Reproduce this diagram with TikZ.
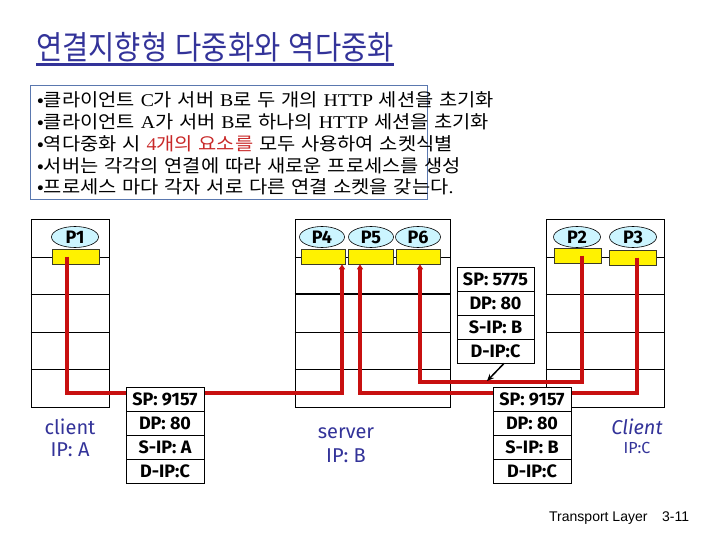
\documentclass[tikz,border=0pt]{standalone}
\usepackage{fontspec}
\usepackage{graphicx}
\setmainfont{Liberation Serif}
\newfontfamily\krfont[WordSpace=1.3]{Noto Sans CJK KR}
\newfontfamily\comic{Fira Sans}
\newfontfamily\arialf{Liberation Sans}
\newcommand\lt[1]{{\rmfamily #1}}
\newcommand\wide[1]{\scalebox{1.1}[1]{#1}}
\usetikzlibrary{shapes.geometric,arrows.meta}
\definecolor{ttl}{RGB}{51,51,153}
\definecolor{boxb}{RGB}{90,120,175}
\definecolor{rline}{RGB}{200,16,16}
\definecolor{pcyan}{RGB}{204,245,255}
\definecolor{redtxt}{RGB}{200,40,40}
\definecolor{sockb}{RGB}{60,60,40}
\begin{document}
\begin{tikzpicture}[x=1pt,y=-1pt,
  hostbox/.style={draw,line width=0.8pt,inner sep=0pt,minimum height=188pt},
  layer/.style={line width=0.8pt},
  proc/.style={ellipse,draw,line width=0.6pt,fill=pcyan,minimum height=21pt,inner sep=0pt,font=\comic\bfseries\fontsize{18}{18}\selectfont},
  sock/.style={draw=sockb,line width=0.6pt,fill=yellow,minimum height=15pt,inner sep=0pt},
  rl/.style={draw=rline,line width=3.4pt},
  rtip/.style={-{Triangle[length=5pt,width=6pt]}},
  pkt/.style={draw,line width=0.8pt,fill=white,minimum width=78pt,minimum height=24pt,inner sep=0pt,font=\comic\bfseries\fontsize{18}{18}\selectfont},
  lbl/.style={text=ttl,inner sep=0pt,font=\comic\fontsize{20}{20}\selectfont},
  bl/.style={anchor=base west,inner sep=0pt,font=\krfont\fontsize{18}{18}\selectfont}
]
\useasboundingbox (0,0) rectangle (720,540);
% title
\node[anchor=base west,inner sep=0pt,text=ttl,font=\krfont\fontsize{31}{31}\selectfont] (title) at (36,60) {\scalebox{0.92}[1.05]{연결지향형 다중화와 역다중화}};
\draw[ttl,line width=3pt] ([yshift=-5pt]title.base west) -- ([yshift=-5pt]title.base east);
% text box
\node[draw=boxb,line width=0.8pt,minimum width=397pt,minimum height=114pt,inner sep=0pt] (tb) at (228.5,142) {};
\node[bl] (t1) at (37,106.6) {\wide{•클라이언트 \lt{C}가 서버 \lt{B}로 두 개의 \lt{HTTP} 세션을 초기화}};
\node[bl] (t2) at (37,129) {\wide{•클라이언트 \lt{A}가 서버 \lt{B}로 하나의 \lt{HTTP} 세션을 초기화}};
\node[bl] (t3) at (37,150.6) {\wide{•역다중화 시 \textcolor{redtxt}{\lt{4}개의 요소를} 모두 사용하여 소켓식별}};
\node[bl] (t4) at (37,172.6) {\wide{•서버는 각각의 연결에 따라 새로운 프로세스를 생성}};
\node[bl] (t5) at (37,193.6) {\wide{•프로세스 마다 각자 서로 다른 연결 소켓을 갖는다\lt{.}}};
% hosts
\node[hostbox,minimum width=78pt] (hA) at (70,313) {};
\node[hostbox,minimum width=155pt] (hB) at (372.5,313) {};
\node[hostbox,minimum width=118pt] (hC) at (605,313) {};
\foreach \h in {hA,hB,hC}{
  \foreach \yy in {257,332,369}{
    \draw[layer] (\h.west |- 0,\yy) -- (\h.east |- 0,\yy);
  }
}
\draw[layer] (hA.west |- 0,294) -- (hA.east |- 0,294);
\draw[line width=1.6pt] (hB.west |- 0,294) -- (hB.east |- 0,294);
\draw[layer] (hC.west |- 0,294) -- (hC.east |- 0,294);
% processes
\node[proc,minimum width=47pt] (p1) at (75,237) {P1};
\node[proc,minimum width=45pt] (p4) at (322,237) {P4};
\node[proc,minimum width=45pt] (p5) at (371,237) {P5};
\node[proc,minimum width=45pt] (p6) at (418,237) {P6};
\node[proc,minimum width=47pt] (p2) at (577,237) {P2};
\node[proc,minimum width=47pt] (p3) at (633,237) {P3};
% sockets
\node[sock,minimum width=47pt] (s1) at (75.5,256.5) {};
\node[sock,minimum width=44pt] (s4) at (323,256.5) {};
\node[sock,minimum width=45pt] (s5) at (370.5,256.5) {};
\node[sock,minimum width=44pt] (s6) at (418,256.5) {};
\node[sock,minimum width=47pt] (s2) at (577.5,255.5) {};
\node[sock,minimum width=47pt] (s3) at (632.5,257.5) {};
% red connections
\coordinate (c1) at (342,393);
\coordinate (c2) at (360,393);
\coordinate (c3) at (420,382);
\draw[rl,rtip] ([xshift=-8.5pt]s1.center) |- (c1) -- (c1 |- s4.south);
\draw[rl,rtip] ([xshift=4.5pt]s3.center) |- (c2) -- (c2 |- s5.south);
\draw[rl,rtip] ([xshift=4.5pt]s2.center) |- (c3) -- (c3 |- s6.south);
% packets
\node[pkt] (pa1) at (165,399) {SP: 9157};
\node[pkt] (pa2) at (165,423) {DP: 80};
\node[pkt] (pa3) at (165,447) {S-IP: A};
\node[pkt] (pa4) at (165,471) {D-IP:C};
\node[pkt,minimum width=77pt] (pu1) at (495.5,279) {SP: 5775};
\node[pkt,minimum width=77pt] (pu2) at (495.5,303) {DP: 80};
\node[pkt,minimum width=77pt] (pu3) at (495.5,327) {S-IP: B};
\node[pkt,minimum width=77pt] (pu4) at (495.5,351) {D-IP:C};
\node[pkt] (pb1) at (532,399) {SP: 9157};
\node[pkt] (pb2) at (532,423) {DP: 80};
\node[pkt] (pb3) at (532,447) {S-IP: B};
\node[pkt] (pb4) at (532,471) {D-IP:C};
\coordinate (ar) at (487,381);
\draw[line width=1.5pt,-{Stealth[length=7pt,width=6pt]}] ([xshift=8.5pt]pu4.south) -- (ar);
% labels
\node[lbl] (la1) at (70,427) {client};
\node[lbl] (la2) at (70,450) {IP: A};
\node[lbl] (lb1) at (346,433) {server};
\node[lbl] (lb2) at (346,456) {IP: B};
\node[lbl,font=\comic\itshape\fontsize{20}{20}\selectfont] (lc1) at (637,427) {Client};
\node[lbl,font=\comic\fontsize{16}{16}\selectfont] (lc2) at (637,448) {IP:C};
\node[anchor=base west,inner sep=0pt,font=\arialf\fontsize{14}{14}\selectfont] (tl) at (549,521) {Transport Layer};
\node[anchor=base west,inner sep=0pt,font=\arialf\fontsize{14}{14}\selectfont] (pg) at (662,521) {3-11};
\end{tikzpicture}
\end{document}
